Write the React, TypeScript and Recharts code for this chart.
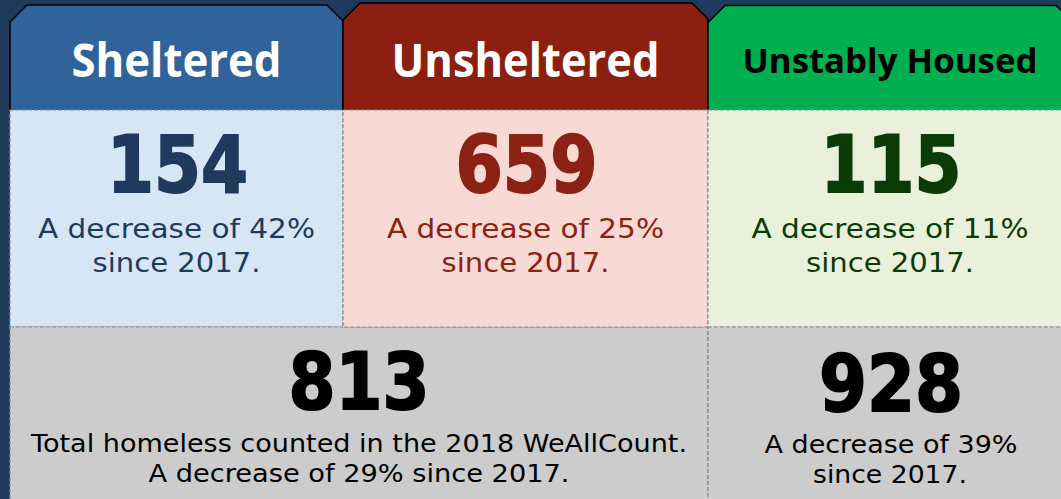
import React from 'react';
import { BarChart, Bar, XAxis, YAxis } from 'recharts';

// ---- data ----
const categories = ['Sheltered', 'Unsheltered', 'Unstably Housed'];
const counts2018 = [154, 659, 115];
const decreasePct = [42, 25, 11];
const sinceYear = 2017;
const countYear = 2018;
const countName = 'WeAllCount';
const totalHomeless = 813;
const totalDecreasePct = 29;
const overallTotal = 928;
const overallDecreasePct = 39;

// ---- styles / layout ----
const W = 1061;
const H = 499;
const BG = '#1F3A5B';
const headerFill = ['#30639A', '#8B1F12', '#00B050'];
const headerTextColor = ['#FFFFFF', '#FFFFFF', '#000000'];
const bodyFill = ['#D7E6F4', '#F9D9D4', '#E9F1DB'];
const valueColor = ['#1F3A5C', '#8B2213', '#0B3B07'];
const COL_EDGES = [10, 343, 708, 1072];
const TAB_TOP = [5, 3, 5.5];
const HEADER_BOTTOM = 110;
const MID_BOTTOM = 327;
const headerFontSize = [46, 46, 34];
const headerBaseline = [77, 77, 73];
const headerLen = [210, 268, 295];
const numberLen = [141, 142, 141];
const DASH = '#8C8C8C';

const data = categories.map((name, i) => ({
  name,
  count: counts2018[i],
  pct: decreasePct[i],
}));

const NUM_FONT = '"DejaVu Sans", Verdana, sans-serif';
const HEAD_FONT = '"Open Sans", "Noto Sans", sans-serif';

function Cell(props: any) {
  const { index, payload } = props;
  const i = index as number;
  const L = COL_EDGES[i];
  const R = COL_EDGES[i + 1];
  const T = TAB_TOP[i];
  const cx = (L + R) / 2;
  const tabPath = `M${L},${HEADER_BOTTOM} L${L},${T + 17} L${L + 17},${T} L${R - 16},${T} L${R},${T + 16} L${R},${HEADER_BOTTOM}`;

  const bottom: React.ReactNode[] = [];
  if (i === 0) {
    const bL = COL_EDGES[0];
    const bR = COL_EDGES[2];
    const bcx = (bL + bR) / 2;
    bottom.push(
      <g key="b0">
        <rect x={bL} y={MID_BOTTOM} width={bR - bL} height={H - MID_BOTTOM + 5} fill="#CCCCCC" stroke={DASH} strokeDasharray="4 2" strokeWidth={1.2} />
        <text x={bcx} y={409} textAnchor="middle" fontFamily={NUM_FONT} fontWeight={700} fontSize={78} fill="#000" stroke="#000" strokeWidth={2} textLength={141} lengthAdjust="spacingAndGlyphs">{totalHomeless}</text>
        <text x={bcx} y={452} textAnchor="middle" fontFamily={NUM_FONT} fontSize={24} fill="#000" textLength={656} lengthAdjust="spacingAndGlyphs">{`Total homeless counted in the ${countYear} ${countName}.`}</text>
        <text x={bcx} y={482} textAnchor="middle" fontFamily={NUM_FONT} fontSize={24} fill="#000" textLength={421} lengthAdjust="spacingAndGlyphs">{`A decrease of ${totalDecreasePct}% since ${sinceYear}.`}</text>
      </g>
    );
  }
  if (i === 2) {
    const bL = COL_EDGES[2];
    const bR = COL_EDGES[3];
    const bcx = (bL + bR) / 2;
    bottom.push(
      <g key="b2">
        <rect x={bL} y={MID_BOTTOM} width={bR - bL} height={H - MID_BOTTOM + 5} fill="#CCCCCC" stroke={DASH} strokeDasharray="4 2" strokeWidth={1.2} />
        <text x={bcx + 1} y={411} textAnchor="middle" fontFamily={NUM_FONT} fontWeight={700} fontSize={78} fill="#000" stroke="#000" strokeWidth={2} textLength={144} lengthAdjust="spacingAndGlyphs">{overallTotal}</text>
        <text x={bcx + 1} y={453} textAnchor="middle" fontFamily={NUM_FONT} fontSize={24} fill="#000" textLength={253} lengthAdjust="spacingAndGlyphs">{`A decrease of ${overallDecreasePct}%`}</text>
        <text x={bcx} y={483} textAnchor="middle" fontFamily={NUM_FONT} fontSize={24} fill="#000" textLength={154} lengthAdjust="spacingAndGlyphs">{`since ${sinceYear}.`}</text>
      </g>
    );
  }

  return (
    <g>
      <path d={tabPath} fill={headerFill[i]} stroke="#000" strokeWidth={1.5} strokeLinejoin="miter" />
      <text x={cx} y={headerBaseline[i]} textAnchor="middle" fontFamily={HEAD_FONT} fontWeight={700} fontSize={headerFontSize[i]} fill={headerTextColor[i]} textLength={headerLen[i]} lengthAdjust="spacingAndGlyphs">{payload.name}</text>
      <rect x={L} y={HEADER_BOTTOM} width={R - L} height={MID_BOTTOM - HEADER_BOTTOM} fill={bodyFill[i]} stroke={DASH} strokeDasharray="4 2" strokeWidth={1.2} />
      <text x={cx + 1} y={192} textAnchor="middle" fontFamily={NUM_FONT} fontWeight={700} fontSize={78} fill={valueColor[i]} stroke={valueColor[i]} strokeWidth={2} textLength={numberLen[i]} lengthAdjust="spacingAndGlyphs">{payload.count}</text>
      <text x={cx} y={238} textAnchor="middle" fontFamily={NUM_FONT} fontSize={26} fill={valueColor[i]} textLength={277} lengthAdjust="spacingAndGlyphs">{`A decrease of ${payload.pct}%`}</text>
      <text x={cx} y={272} textAnchor="middle" fontFamily={NUM_FONT} fontSize={26} fill={valueColor[i]} textLength={168} lengthAdjust="spacingAndGlyphs">{`since ${sinceYear}.`}</text>
      {bottom}
    </g>
  );
}

export default function App() {
  return (
    <div style={{ position: 'absolute', left: 0, top: 0, width: W, height: H, background: BG, overflow: 'hidden' }}>
      <BarChart width={W} height={H} data={data} margin={{ top: 0, right: 0, bottom: 0, left: 0 }} barCategoryGap={0}>
        <XAxis dataKey="name" hide />
        <YAxis hide domain={[0, 700]} />
        <Bar dataKey="count" isAnimationActive={false} shape={(p: any) => <Cell {...p} />} />
      </BarChart>
    </div>
  );
}
